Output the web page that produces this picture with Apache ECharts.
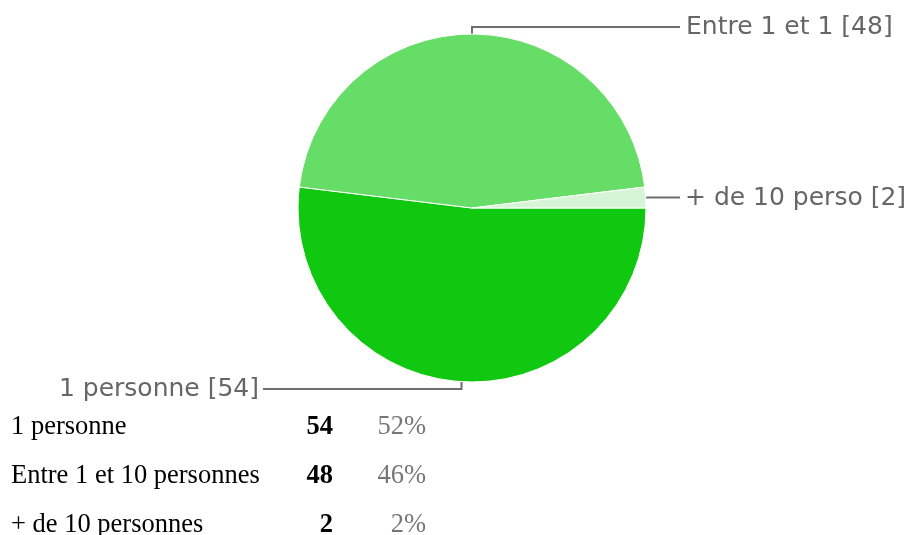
<!DOCTYPE html>
<html>
<head>
<meta charset="utf-8">
<script src="https://cdn.jsdelivr.net/npm/echarts@6/dist/echarts.min.js"></script>
<style>
  html, body { margin: 0; padding: 0; background: #fff; }
  #chart { width: 909px; height: 535px; }
</style>
</head>
<body>
<div id="chart"></div>
<script>
// Survey answers: how many people
const categories = ['1 personne', 'Entre 1 et 10 personnes', '+ de 10 personnes'];
const shortLabels = ['1 personne', 'Entre 1 et 1', '+ de 10 perso'];
const values = [54, 48, 2];
const sliceColors = ['#0fc80f', '#66dd66', '#d6f4d6'];

const total = values.reduce((a, b) => a + b, 0);
const percents = values.map(v => Math.round(v / total * 100) + '%');

const chart = echarts.init(document.getElementById('chart'), null, { renderer: 'canvas' });

// Elbow-shaped leader lines: straight out of the slice, then a horizontal run to the text
function layoutLabel(p) {
  const e = p.labelLinePoints ? p.labelLinePoints[0] : [0, 0];
  if (p.dataIndex === 0) {
    return { x: 259, y: 389, align: 'right', verticalAlign: 'middle',
      labelLinePoints: [e, [e[0], 389], [263, 389]] };
  }
  if (p.dataIndex === 1) {
    return { x: 686, y: 27, align: 'left', verticalAlign: 'middle',
      labelLinePoints: [e, [e[0], 27], [680, 27]] };
  }
  return { x: 685, y: e[1] + 1, align: 'left', verticalAlign: 'middle',
    labelLinePoints: [e, [680, e[1]]] };
}

// Summary table under the pie: name, count (bold), share (grey)
const rowY = [427, 476, 525];
const tableFont = '"Liberation Serif", "Times New Roman", serif';
const tableElements = [];
categories.forEach((name, i) => {
  tableElements.push({
    type: 'text', x: 11, y: rowY[i], silent: true,
    style: { text: name, font: '26.5px ' + tableFont, fill: '#000',
      align: 'left', verticalAlign: 'middle' }
  });
  tableElements.push({
    type: 'text', x: 333, y: rowY[i], silent: true,
    style: { text: String(values[i]), font: 'bold 26.5px ' + tableFont, fill: '#000',
      align: 'right', verticalAlign: 'middle' }
  });
  tableElements.push({
    type: 'text', x: 426, y: rowY[i], silent: true,
    style: { text: percents[i], font: '26.5px ' + tableFont, fill: '#777',
      align: 'right', verticalAlign: 'middle' }
  });
});

chart.setOption({
  animation: false,
  backgroundColor: '#fff',
  series: [{
    type: 'pie',
    center: [472, 208],
    radius: 174,
    startAngle: 0,
    clockwise: true,
    avoidLabelOverlap: false,
    emphasis: { disabled: true },
    itemStyle: { borderColor: '#fff', borderWidth: 1 },
    data: values.map((v, i) => ({
      name: shortLabels[i], value: v, itemStyle: { color: sliceColors[i] }
    })),
    label: {
      show: true,
      formatter: '{b} [{c}]',
      fontFamily: '"DejaVu Sans", sans-serif',
      fontSize: 25,
      color: '#666'
    },
    labelLine: {
      show: true, length: 10, length2: 20,
      lineStyle: { color: '#6e6e6e', width: 2 }
    },
    labelLayout: layoutLabel
  }],
  graphic: tableElements
});
</script>
</body>
</html>
